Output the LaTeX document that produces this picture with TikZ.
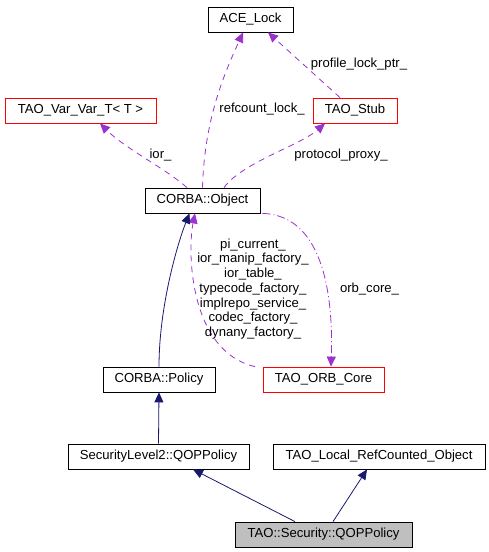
\documentclass[tikz,border=0pt]{standalone}
\usepackage{fontspec}
\setmainfont{Liberation Sans}
\usetikzlibrary{arrows.meta,calc}
\definecolor{dpurple}{HTML}{9A32CD}
\definecolor{dnavy}{HTML}{191970}
\definecolor{dgray}{HTML}{BFBFBF}
\tikzset{
  box/.style={draw=black, line width=0.8pt, minimum height=25pt, inner sep=0pt, font=\fontsize{13.1}{15}\selectfont},
  redbox/.style={box, draw=red},
  usage/.style={draw=dpurple, line width=0.8pt, dash pattern=on 6pt off 5pt, -{Triangle[length=10pt,width=9pt]}, fill=none},
  usagedd/.style={draw=dpurple, line width=0.8pt, dash pattern=on 8pt off 3pt on 1pt off 3pt, -{Triangle[length=10pt,width=9pt]}},
  inherit/.style={draw=dnavy, line width=0.8pt, -{Triangle[length=10pt,width=9pt]}},
  lbl/.style={font=\fontsize{13.1}{15}\selectfont, inner sep=0pt, align=center}
}
\begin{document}
\begin{tikzpicture}[x=1pt,y=-1pt]
\useasboundingbox (0,0) rectangle (489,552);
\node[box, minimum width=85pt] (ace) at (250.5,19.5) {ACE\_Lock};
\node[redbox, minimum width=151pt] (var) at (80.5,110.5) {TAO\_Var\_Var\_T< T >};
\node[redbox, minimum width=84pt] (stub) at (355,110.5) {TAO\_Stub};
\node[box, minimum width=115pt] (obj) at (202.5,200.5) {CORBA::Object};
\node[box, minimum width=112pt] (pol) at (159,379.5) {CORBA::Policy};
\node[redbox, minimum width=121pt] (orb) at (323.5,379.5) {TAO\_ORB\_Core};
\node[box, minimum width=181pt] (sl2) at (158.5,456.5) {SecurityLevel2::QOPPolicy};
\node[box, minimum width=212pt] (loc) at (379,456.5) {TAO\_Local\_RefCounted\_Object};
\node[box, fill=dgray, minimum width=177pt] (sec) at (323.5,534.5) {TAO::Security::QOPPolicy};

% usage edges
\draw[usage] (obj.north) .. controls +(2,-70) and +(-18,40) .. ([xshift=-7.5pt]ace.south);
\draw[usage] ([xshift=-15pt]stub.north) -- ([xshift=17.5pt]ace.south);
\draw[usage] ([xshift=-15.5pt]obj.north) .. controls +(-20,-18) and +(25,25) .. ([xshift=19.5pt]var.south);
\draw[usage] ([xshift=21.5pt]obj.north) .. controls +(18,-25) and +(-25,22) .. ([xshift=-30pt]stub.south);
\draw[usage] ([xshift=-68.5pt]orb.north) .. controls +(-65,-15) and +(-8,40) .. ([xshift=-7.5pt]obj.south);
\draw[usagedd] ([xshift=2pt]obj.south east) .. controls +(65,2) and +(2,-60) .. ([xshift=7.5pt]orb.north);

% inheritance
\draw[inherit] (pol.north) .. controls +(0,-60) and +(-12,30) .. ([xshift=-13pt]obj.south);
\draw[inherit] (sl2.north) -- (pol.south);
\draw[inherit] ([xshift=-28.5pt]sec.north) -- ([xshift=34.5pt]sl2.south);
\draw[inherit] ([xshift=9.5pt]sec.north) -- ([xshift=-12pt]loc.south);

% labels
\node[lbl] (l1) at (262,109) {refcount\_lock\_};
\node[lbl] (l2) at (359,64) {profile\_lock\_ptr\_};
\node[lbl] (l3) at (160.5,155) {ior\_};
\node[lbl] (l4) at (341,155) {protocol\_proxy\_};
\node[lbl] (l5) at (369.5,289) {orb\_core\_};
\node[lbl, font=\fontsize{13.1}{14.7}\selectfont] (l6) at (253,289) {pi\_current\_\\ior\_manip\_factory\_\\ior\_table\_\\typecode\_factory\_\\implrepo\_service\_\\codec\_factory\_\\dynany\_factory\_};
\end{tikzpicture}
\end{document}
